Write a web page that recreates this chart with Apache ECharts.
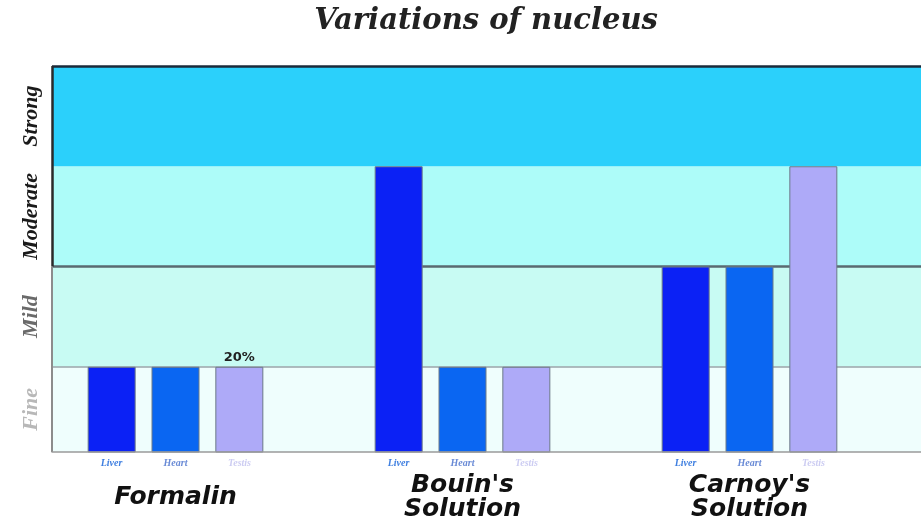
<!DOCTYPE html>
<html>
<head>
<meta charset="utf-8">
<script src="https://cdn.jsdelivr.net/npm/echarts@6/dist/echarts.min.js"></script>
<style>
  html, body { margin: 0; padding: 0; background: #fff; }
  #chart { width: 921px; height: 522px; }
</style>
</head>
<body>
<div id="chart"></div>
<script>
// levels of staining, bottom to top
const levels = ['Fine', 'Mild', 'Moderate', 'Strong']
const bandEdges = [0.15, 1, 2, 3, 4]
const groups = ['Formalin', "Bouin's\nSolution", "Carnoy's\nSolution"]
const seriesNames = ['Liver', 'Heart', 'Testis']
const liver = [1, 3, 2]
const heart = [1, 1, 2]
const testis = [1, 1, 3]
const testisNotes = ['20%', '', '']

const bandColors = ['#effefd', '#c8fbf3', '#adfcf9', '#2bd0fb']
const barColors = ['#0b21f5', '#0a66f2', '#aeaaf8']
const nameColors = ['#3f7fe0', '#6a8bd6', '#cdcdf2']
const levelColors = ['#b8b8b8', '#6a6a6a', '#1a1a1a', '#1a1a1a']

const mids = levels.map((_, i) => (bandEdges[i] + bandEdges[i + 1]) / 2)

const chart = echarts.init(document.getElementById('chart'))

const levelRich = {}
levels.forEach((_, i) => {
  levelRich['s' + i] = {
    fontFamily: 'Liberation Serif', fontStyle: 'italic', fontWeight: 'bold',
    fontSize: 22, color: levelColors[i]
  }
})

const nameRich = {}
seriesNames.forEach((_, i) => {
  nameRich['n' + i] = {
    width: 64, align: 'center', lineHeight: 20,
    fontFamily: 'Liberation Serif', fontStyle: 'italic', fontWeight: 'bold',
    fontSize: 10, color: nameColors[i]
  }
})
const groupFont = { fontFamily: 'DejaVu Sans', fontStyle: 'italic', fontWeight: 'bold', fontSize: 25, color: '#111' }
nameRich.g = { ...groupFont, lineHeight: 24 }
nameRich.g1 = { ...groupFont, lineHeight: 48 }

const bars = [liver, heart, testis].map((vals, k) => ({
  name: seriesNames[k],
  type: 'bar',
  xAxisIndex: 1,
  yAxisIndex: 1,
  barWidth: 48,
  barGap: '33%',
  z: 3,
  itemStyle: { color: barColors[k], borderColor: '#6c7a88', borderWidth: 1 },
  data: vals.map((v, i) => {
    const note = k === 2 ? testisNotes[i] : ''
    if (!note) return v
    return {
      value: v,
      label: {
        show: true, position: 'top', distance: 3, formatter: note,
        fontFamily: 'DejaVu Sans', fontWeight: 'bold', fontSize: 13, color: '#222'
      }
    }
  })
}))

chart.setOption({
  animation: false,
  title: {
    text: 'Variations of nucleus',
    left: 481,
    top: 2,
    textAlign: 'center',
    textStyle: { fontFamily: 'DejaVu Serif', fontStyle: 'italic', fontWeight: 'bold', fontSize: 29, color: '#222' }
  },
  grid: [
    { left: 52, right: -10, top: 66, bottom: 70 },
    { left: 32, width: 861, top: 66, bottom: 70 }
  ],
  xAxis: [
    {
      gridIndex: 0, type: 'value', min: 0, max: 1, z: 5,
      axisLine: { show: true, lineStyle: { color: '#9a9a9a', width: 1.5 } },
      axisTick: { show: false }, axisLabel: { show: false }, splitLine: { show: false }
    },
    {
      gridIndex: 1, type: 'category', data: groups,
      axisLine: { show: false }, axisTick: { show: false },
      axisLabel: {
        margin: 1,
        interval: 0,
        formatter: (v) => {
          const names = seriesNames.map((n, i) => `{n${i}|${n}}`).join('')
          const lines = v.split('\n')
          const key = lines.length > 1 ? 'g' : 'g1'
          return names + '\n' + lines.map(l => `{${key}|${l}}`).join('\n')
        },
        rich: nameRich
      }
    }
  ],
  yAxis: [
    {
      gridIndex: 0, type: 'value', min: bandEdges[0], max: bandEdges[4],
      axisLine: { show: false },
      axisTick: { show: false }, splitLine: { show: false },
      axisLabel: {
        customValues: mids,
        rotate: 90,
        margin: 10,
        formatter: (v) => {
          const i = mids.indexOf(v)
          return `{s${i}|${levels[i]}}`
        },
        rich: levelRich
      }
    },
    { gridIndex: 1, type: 'value', min: bandEdges[0], max: bandEdges[4], show: false }
  ],
  series: [
    {
      type: 'line',
      xAxisIndex: 0,
      yAxisIndex: 0,
      data: [],
      z: 1,
      silent: true,
      markArea: {
        silent: true,
        z: 1,
        data: levels.map((_, i) => [
          { yAxis: bandEdges[i], itemStyle: { color: bandColors[i] } },
          { yAxis: bandEdges[i + 1] }
        ])
      },
      markLine: {
        silent: true,
        z: 2,
        symbol: 'none',
        label: { show: false },
        data: [
          { yAxis: 1, lineStyle: { color: '#9aa5a8', width: 1.5, type: 'solid' } },
          { yAxis: 2, lineStyle: { color: '#5a6a70', width: 2.5, type: 'solid' } },
          { yAxis: 4, lineStyle: { color: '#1a2a3a', width: 2.5, type: 'solid' } },
          [
            { coord: [0, 2], lineStyle: { color: '#2a2a2a', width: 2.5, type: 'solid' } },
            { coord: [0, 4] }
          ],
          [
            { coord: [0, bandEdges[0]], lineStyle: { color: '#8c8c8c', width: 2, type: 'solid' } },
            { coord: [0, 2] }
          ]
        ]
      }
    },
    ...bars
  ]
})
</script>
</body>
</html>
